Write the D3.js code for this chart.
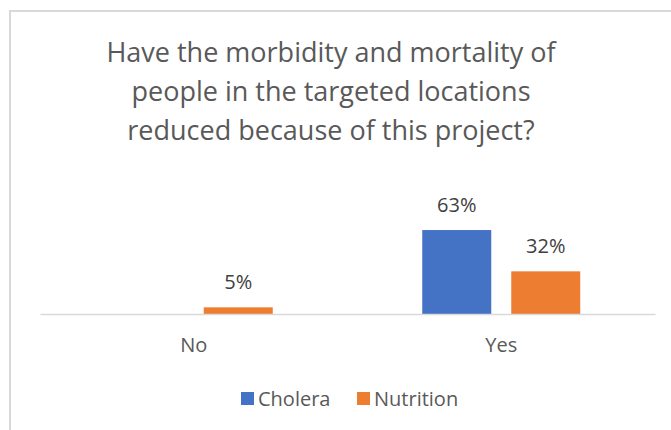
<!DOCTYPE html>
<html>
<head>
<meta charset="utf-8">
<script src="https://cdn.jsdelivr.net/npm/d3@7"></script>
<style>
  html, body { margin: 0; padding: 0; background: #fff; }
  svg { display: block; font-family: "Open Sans", "Noto Sans", sans-serif; }
</style>
</head>
<body>
<div id="chart"></div>
<script>
// chart data
const categories = ["No", "Yes"];
const seriesNames = ["Cholera", "Nutrition"];
const cholera = [0, 0.63];
const nutrition = [0.05, 0.32];
const titleLines = [
    "Have the morbidity and mortality of",
    "people in the targeted locations",
    "reduced because of this project?"
];

const colors = { Cholera: "#4472c4", Nutrition: "#ed7d31" };
const width = 671, height = 430;
const baseY = 314;

const svg = d3.select("#chart").append("svg")
    .attr("width", width)
    .attr("height", height);

// chart area border (left + top only are visible in the crop)
svg.append("path")
    .attr("d", `M10,${height} V11 H${width}`)
    .attr("fill", "none")
    .attr("stroke", "#d9d9d9")
    .attr("stroke-width", 2);

// title
svg.append("g").selectAll("text")
    .data(titleLines)
    .join("text")
    .attr("x", 331)
    .attr("y", (d, i) => 62 + i * 39)
    .attr("text-anchor", "middle")
    .attr("font-size", "27px")
    .attr("fill", "#595959")
    .text(d => d);

// scales
const x0 = d3.scaleBand().domain(categories).range([40, 655]);
const x1 = d3.scaleBand().domain(seriesNames)
    .range([0, x0.bandwidth()])
    .paddingInner(0.2247)
    .paddingOuter(0.84);
const y = d3.scaleLinear().domain([0, 0.7]).range([baseY, baseY - 93.3]);

const rows = categories.map((c, i) => ({
    category: c,
    values: [
        { key: "Cholera", value: cholera[i] },
        { key: "Nutrition", value: nutrition[i] }
    ]
}));

const groups = svg.append("g").selectAll("g")
    .data(rows)
    .join("g")
    .attr("transform", d => `translate(${x0(d.category)},0)`);

groups.selectAll("rect")
    .data(d => d.values)
    .join("rect")
    .attr("x", d => x1(d.key))
    .attr("y", d => y(d.value))
    .attr("width", x1.bandwidth())
    .attr("height", d => baseY - y(d.value))
    .attr("fill", d => colors[d.key]);

groups.selectAll("text")
    .data(d => d.values.filter(v => v.value > 0))
    .join("text")
    .attr("x", d => x1(d.key) + x1.bandwidth() / 2)
    .attr("y", d => y(d.value) - 18)
    .attr("text-anchor", "middle")
    .attr("font-size", "20px")
    .attr("fill", "#404040")
    .text(d => Math.round(d.value * 100) + "%");

// category axis
const xAxis = svg.append("g")
    .attr("transform", `translate(0,${baseY})`)
    .call(d3.axisBottom(x0).tickSize(0).tickPadding(24));
xAxis.select(".domain").attr("stroke", "#d9d9d9").attr("stroke-width", 1.5);
xAxis.selectAll("text")
    .attr("font-family", "\"Open Sans\", sans-serif")
    .attr("font-size", "20px")
    .attr("fill", "#595959");

// legend
const legend = svg.append("g").attr("transform", "translate(241,392)");
const legendX = [0, 116];
const item = legend.selectAll("g")
    .data(seriesNames)
    .join("g")
    .attr("transform", (d, i) => `translate(${legendX[i]},0)`);
item.append("rect")
    .attr("width", 13)
    .attr("height", 13)
    .attr("fill", d => colors[d]);
item.append("text")
    .attr("x", 17)
    .attr("y", 13.5)
    .attr("font-size", "20px")
    .attr("fill", "#595959")
    .text(d => d);
</script>
</body>
</html>
